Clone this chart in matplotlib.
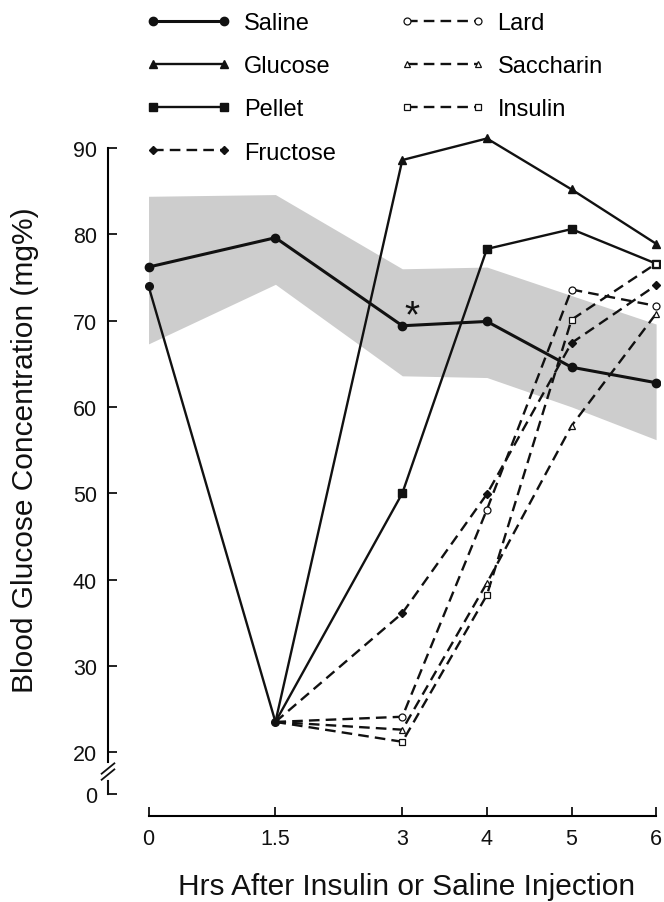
import matplotlib
matplotlib.use("Agg")
import matplotlib.pyplot as plt

plt.rcParams["font.family"] = ["Liberation Sans", "DejaVu Sans"]

# ---- data ----
hours = [0, 1.5, 3, 4, 5, 6]
saline = [76.2, 79.6, 69.4, 69.9, 64.6, 62.8]
band_hi = [84.4, 84.6, 76.0, 76.2, 72.9, 69.6]
band_lo = [67.3, 74.2, 63.6, 63.4, 60.0, 56.2]

pre_hours = [0, 1.5]
pre_insulin = [74.0, 23.5]

post_hours = [1.5, 3, 4, 5, 6]
glucose = [23.5, 88.6, 91.1, 85.2, 78.9]
pellet = [23.5, 50.0, 78.3, 80.6, 76.6]
fructose = [23.5, 36.1, 49.9, 67.4, 74.1]
lard = [23.5, 24.1, 48.1, 73.6, 71.7]
saccharin = [23.5, 22.6, 39.6, 57.8, 70.8]
insulin = [23.5, 21.2, 38.2, 70.1, 76.6]

ytick_vals = [15.2, 20, 30, 40, 50, 60, 70, 80, 90]
ytick_labels = ["0", "20", "30", "40", "50", "60", "70", "80", "90"]
xtick_vals = [0, 1.5, 3, 4, 5, 6]
xtick_labels = ["0", "1.5", "3", "4", "5", "6"]

ink = "#111111"
lw = 1.7
dash = (0, (4.5, 2.6))
mk = [1, 2, 3, 4]  # the 1.5 h point is drawn by the shared line

fig = plt.figure(figsize=(6.64, 9.03), dpi=100)
# axes box in pixels: left 108, right 660, top 10, bottom 817
ax = fig.add_axes([108 / 664, 1 - 817 / 903, (660 - 108) / 664, (817 - 10) / 903])
ax.set_xlim(-0.479, 6.046)
ax.set_ylim(12.6, 106.1)

# shaded normal range of saline group
ax.fill_between(hours, band_lo, band_hi, color="#cdcdcd", linewidth=0, zorder=0)

# common pre-treatment line of the insulin groups
ax.plot(pre_hours, pre_insulin, color=ink, lw=lw, marker="o", ms=5.5, zorder=5)

ax.plot(hours, saline, color=ink, lw=2.2, marker="o", ms=6, label="Saline", zorder=4)
ax.plot(post_hours, glucose, color=ink, lw=lw, marker="^", ms=6, markevery=mk,
        label="Glucose", zorder=3)
ax.plot(post_hours, pellet, color=ink, lw=lw, marker="s", ms=5.5, markevery=mk,
        label="Pellet", zorder=3)
ax.plot(post_hours, fructose, color=ink, lw=lw, ls=dash, marker="D", ms=4.5, markevery=mk,
        label="Fructose", zorder=3)
ax.plot(post_hours, lard, color=ink, lw=lw, ls=dash, marker="o", ms=5, mfc="white",
        mew=0.9, markevery=mk, label="Lard", zorder=3)
ax.plot(post_hours, saccharin, color=ink, lw=lw, ls=dash, marker="^", ms=5, mfc="white",
        mew=0.9, markevery=mk, label="Saccharin", zorder=3)
ax.plot(post_hours, insulin, color=ink, lw=lw, ls=dash, marker="s", ms=4.5, mfc="white",
        mew=0.9, markevery=mk, label="Insulin", zorder=3)

# significance mark
ax.text(3.11, 70.5, "*", fontsize=28, ha="center", va="center", color=ink)

# spines / broken y axis
for s in ["top", "right"]:
    ax.spines[s].set_visible(False)
ax.spines["left"].set_bounds(18.9, 90)
ax.spines["bottom"].set_bounds(0, 6)
ax.spines["left"].set_linewidth(1.5)
ax.spines["bottom"].set_linewidth(1.5)
x0 = -0.479
ax.plot([x0, x0], [15.2, 16.6], color=ink, lw=1.5, clip_on=False)
for yc in [17.4, 18.1]:
    ax.plot([x0 - 0.075, x0 + 0.075], [yc - 0.6, yc + 0.6], color=ink, lw=1.3, clip_on=False)

ax.set_yticks(ytick_vals)
ax.set_yticklabels(ytick_labels)
ax.set_xticks(xtick_vals)
ax.set_xticklabels(xtick_labels)
ax.tick_params(axis="both", direction="in", length=6.5, width=1.3, labelsize=15.5, colors=ink)
ax.tick_params(axis="y", pad=8)
ax.tick_params(axis="x", pad=9)

fig.text(407 / 664, 1 - 887 / 903, "Hrs After Insulin or Saline Injection",
         fontsize=21.5, ha="center", va="center", color=ink)
fig.text(25 / 664, 1 - 450 / 903, "Blood Glucose Concentration (mg%)",
         fontsize=21.5, ha="center", va="center", rotation=90, color=ink)

ax.legend(loc="upper left", bbox_to_anchor=(146 / 664, 1 - 13 / 903),
          bbox_transform=fig.transFigure, ncol=2, numpoints=2, frameon=False,
          fontsize=17, handlelength=3.6, handletextpad=0.55, columnspacing=2.7,
          labelspacing=0.9, borderpad=0, borderaxespad=0)

fig.savefig("out.png", dpi=100)
